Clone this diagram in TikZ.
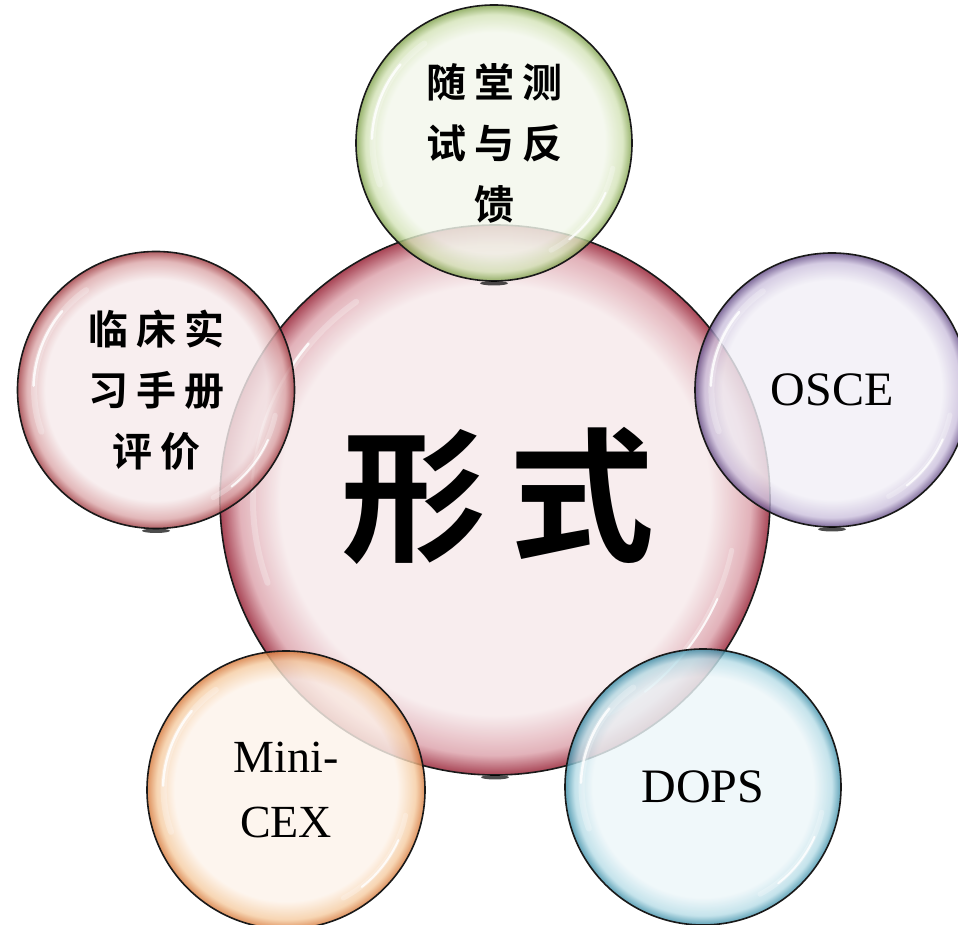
\documentclass[tikz,border=0pt]{standalone}
\usepackage{fontspec}
\setmainfont{Liberation Serif}
\newfontfamily\cjk{Noto Sans CJK SC}[BoldFont=* Bold]

% bubble palettes: inner tint, ring tint, rim colour
\definecolor{mainIn}{RGB}{247,236,237}
\definecolor{mainMid}{RGB}{224,172,180}
\definecolor{mainOut}{RGB}{160,52,70}
\definecolor{grnIn}{RGB}{243,247,236}
\definecolor{grnMid}{RGB}{212,227,184}
\definecolor{grnOut}{RGB}{128,162,76}
\definecolor{redIn}{RGB}{246,234,235}
\definecolor{redMid}{RGB}{220,168,170}
\definecolor{redOut}{RGB}{160,60,66}
\definecolor{vioIn}{RGB}{241,239,246}
\definecolor{vioMid}{RGB}{204,193,221}
\definecolor{vioOut}{RGB}{100,76,134}
\definecolor{orgIn}{RGB}{253,243,234}
\definecolor{orgMid}{RGB}{245,204,162}
\definecolor{orgOut}{RGB}{214,120,58}
\definecolor{bluIn}{RGB}{237,246,249}
\definecolor{bluMid}{RGB}{184,221,231}
\definecolor{bluOut}{RGB}{60,142,168}

\pgfdeclareradialshading{shMain}{\pgfpoint{0bp}{0bp}}{color(0bp)=(mainIn); color(19.5bp)=(mainIn); color(23.2bp)=(mainMid); color(25bp)=(mainOut); color(50bp)=(mainOut)}
\pgfdeclareradialshading{shGrn}{\pgfpoint{0bp}{0bp}}{color(0bp)=(grnIn); color(20bp)=(grnIn); color(23.3bp)=(grnMid); color(25bp)=(grnOut); color(50bp)=(grnOut)}
\pgfdeclareradialshading{shRed}{\pgfpoint{0bp}{0bp}}{color(0bp)=(redIn); color(20bp)=(redIn); color(23.3bp)=(redMid); color(25bp)=(redOut); color(50bp)=(redOut)}
\pgfdeclareradialshading{shVio}{\pgfpoint{0bp}{0bp}}{color(0bp)=(vioIn); color(20bp)=(vioIn); color(23.3bp)=(vioMid); color(25bp)=(vioOut); color(50bp)=(vioOut)}
\pgfdeclareradialshading{shOrg}{\pgfpoint{0bp}{0bp}}{color(0bp)=(orgIn); color(20bp)=(orgIn); color(23.3bp)=(orgMid); color(25bp)=(orgOut); color(50bp)=(orgOut)}
\pgfdeclareradialshading{shBlu}{\pgfpoint{0bp}{0bp}}{color(0bp)=(bluIn); color(20bp)=(bluIn); color(23.3bp)=(bluMid); color(25bp)=(bluOut); color(50bp)=(bluOut)}

\tikzset{
  bubble/.style={circle, inner sep=0pt, draw=black!90, line width=1.6pt,
    fill opacity=0.82, text opacity=1, align=center, text=black},
  glint/.style={white, line cap=round},
  hanzi/.style={font={\cjk\bfseries\fontsize{40}{61}\selectfont}},
  latin/.style={font={\fontsize{#1}{65}\selectfont}},
}

\def\cjkgap{\hspace{8pt}}

% white glossy streaks just inside the rim of a bubble
\newcommand\glossarcs[2]{%
  \draw[glint, line width=6pt, opacity=.25] (#1.center) ++(125:{0.88*#2}) arc[start angle=125, end angle=200, radius={0.88*#2}];
  \draw[glint, line width=2.5pt, opacity=.85] (#1.center) ++(140:{0.885*#2}) arc[start angle=140, end angle=178, radius={0.885*#2}];
  \draw[glint, line width=5pt, opacity=.25] (#1.center) ++(-62:{0.88*#2}) arc[start angle=-62, end angle=-12, radius={0.88*#2}];
  \draw[glint, line width=2pt, opacity=.85] (#1.center) ++(-52:{0.885*#2}) arc[start angle=-52, end angle=-24, radius={0.885*#2}];
}
% small dark reflection under a bubble
\newcommand\undershadow[1]{%
  \fill[black, opacity=.7] ([yshift=-1.5pt]#1.south) ellipse [x radius=14, y radius=2.2];
}

\begin{document}
\begin{tikzpicture}[x=1pt, y=1pt]
\useasboundingbox (0,0) rectangle (958,925);
\clip (0,0) rectangle (958,925);

% central bubble
\node[bubble, shading=shMain, fill opacity=0.92, minimum size=550pt] (form) at (495,425) {};
\glossarcs{form}{275}
\undershadow{form}
\node[font={\cjk\bfseries\fontsize{145}{145}\selectfont}] (formtxt) at (498,429) {形\hspace{24pt}式};

% satellite bubbles
\node[bubble, hanzi, shading=shGrn, minimum size=276pt] (quiz) at (494,782)
  {随\cjkgap 堂\cjkgap 测\\试\cjkgap 与\cjkgap 反\\馈};
\glossarcs{quiz}{138}
\undershadow{quiz}

\node[bubble, hanzi, shading=shRed, minimum size=277pt] (logbook) at (156,535)
  {临\cjkgap 床\cjkgap 实\\习\cjkgap 手\cjkgap 册\\评\cjkgap 价};
\glossarcs{logbook}{138.5}
\undershadow{logbook}

\node[bubble, latin=48, shading=shVio, minimum size=274pt] (osce) at (832,535) {OSCE};
\glossarcs{osce}{137}
\undershadow{osce}

\node[bubble, latin=46, shading=shOrg, minimum size=278pt] (mini) at (286,135) {Mini-\\CEX};
\glossarcs{mini}{139}

\node[bubble, latin=48, shading=shBlu, minimum size=276pt] (dops) at (703,138) {DOPS};
\glossarcs{dops}{138}
\undershadow{dops}
\end{tikzpicture}
\end{document}
